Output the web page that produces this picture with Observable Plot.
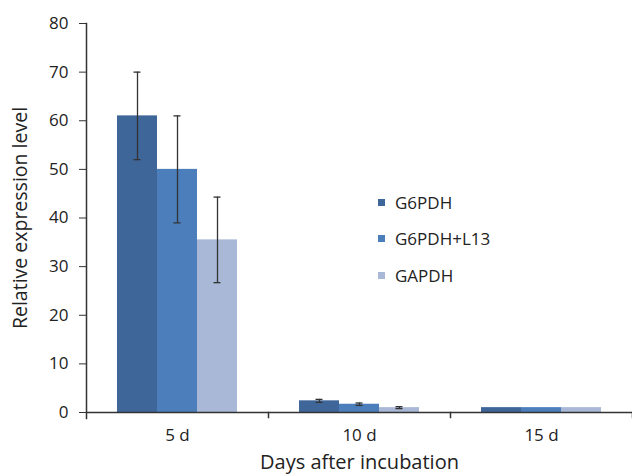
<!DOCTYPE html>
<html><head><meta charset="utf-8">
<script src="https://cdn.jsdelivr.net/npm/d3@7"></script>
<script src="https://cdn.jsdelivr.net/npm/@observablehq/plot@0.6"></script>
<style>
body{margin:0;background:#fff;}
#wrap{position:relative;width:632px;height:476px;overflow:hidden;font-family:"Open Sans",sans-serif;}
.legend{position:absolute;left:378px;top:184px;font-size:17px;color:#222;}
.legend .row{display:flex;align-items:center;height:36.5px;}
.legend .sw{width:7px;height:7px;margin-right:10px;}
</style></head>
<body><div id="wrap"></div>
<script>
const days = ["5 d", "10 d", "15 d"];
const series = ["G6PDH", "G6PDH+L13", "GAPDH"];
const colors = ["#3f6699", "#4b7ebb", "#a9b8d7"];
const g6pdh = [61, 2.4, 1.0];
const g6pdhErr = [9, 0.3, 0];
const g6pdhL13 = [50, 1.7, 1.0];
const g6pdhL13Err = [11, 0.25, 0];
const gapdh = [35.5, 1.0, 1.0];
const gapdhErr = [8.8, 0.2, 0];
const yTicks = [0, 10, 20, 30, 40, 50, 60, 70, 80];

const valueSets = [[g6pdh, g6pdhErr], [g6pdhL13, g6pdhL13Err], [gapdh, gapdhErr]];
const data = [];
days.forEach((d, i) => valueSets.forEach(([v, e], j) =>
  data.push({day: d, series: series[j], value: v[i], err: e[i]})));
const errData = data.filter(d => d.err > 0);

const font = "'Open Sans', sans-serif";
const chart = Plot.plot({
  width: 632, height: 476,
  marginLeft: 85, marginTop: 23, marginBottom: 64, marginRight: 0,
  style: {fontFamily: font, fontSize: "17px", color: "#222", background: "white", overflow: "visible"},
  fx: {domain: days, paddingInner: 0, paddingOuter: 0, label: null},
  x: {domain: series, paddingInner: 0, paddingOuter: 0.755, axis: null},
  y: {domain: [0, 80], ticks: yTicks, axis: null},
  color: {domain: series, range: colors},
  marks: [
    Plot.barY(data, {fx: "day", x: "series", y: "value", fill: "series"}),
    Plot.ruleX(errData, {fx: "day", x: "series", y1: d => d.value - d.err, y2: d => d.value + d.err, stroke: "#333", strokeWidth: 1.3}),
    Plot.tickY(errData, {fx: "day", x: "series", y: d => d.value - d.err, stroke: "#333", strokeWidth: 1.3, insetLeft: 16.5, insetRight: 16.5}),
    Plot.tickY(errData, {fx: "day", x: "series", y: d => d.value + d.err, stroke: "#333", strokeWidth: 1.3, insetLeft: 16.5, insetRight: 16.5}),
    Plot.ruleY([0], {stroke: "#333", strokeWidth: 1.5}),
    Plot.frame({anchor: "left", facetAnchor: "left", insetBottom: -6, stroke: "#333", strokeWidth: 1.5}),
    Plot.frame({anchor: "right", insetTop: 389, insetBottom: -5, stroke: "#333", strokeWidth: 1.5}),
    Plot.axisY({ticks: yTicks, tickSize: 7, tickPadding: 11, stroke: "#333", fontSize: 17,
      label: null}),
    Plot.axisY({ticks: [], label: "Relative expression level", labelAnchor: "center", labelArrow: "none", labelOffset: 73, fontSize: 19.5}),
    Plot.axisFx({anchor: "bottom", tickSize: 0, tickPadding: 16, fontSize: 17,
      label: null}),
    Plot.axisFx({anchor: "bottom", ticks: [], label: "Days after incubation", labelAnchor: "center", labelArrow: "none", labelOffset: 56, fontSize: 20})
  ]
});
document.getElementById("wrap").appendChild(chart);

const legend = document.createElement("div");
legend.className = "legend";
series.forEach((s, i) => {
  const row = document.createElement("div");
  row.className = "row";
  const sw = document.createElement("span");
  sw.className = "sw";
  sw.style.background = colors[i];
  const t = document.createElement("span");
  t.textContent = s;
  row.appendChild(sw); row.appendChild(t);
  legend.appendChild(row);
});
document.getElementById("wrap").appendChild(legend);
</script>
</body></html>
